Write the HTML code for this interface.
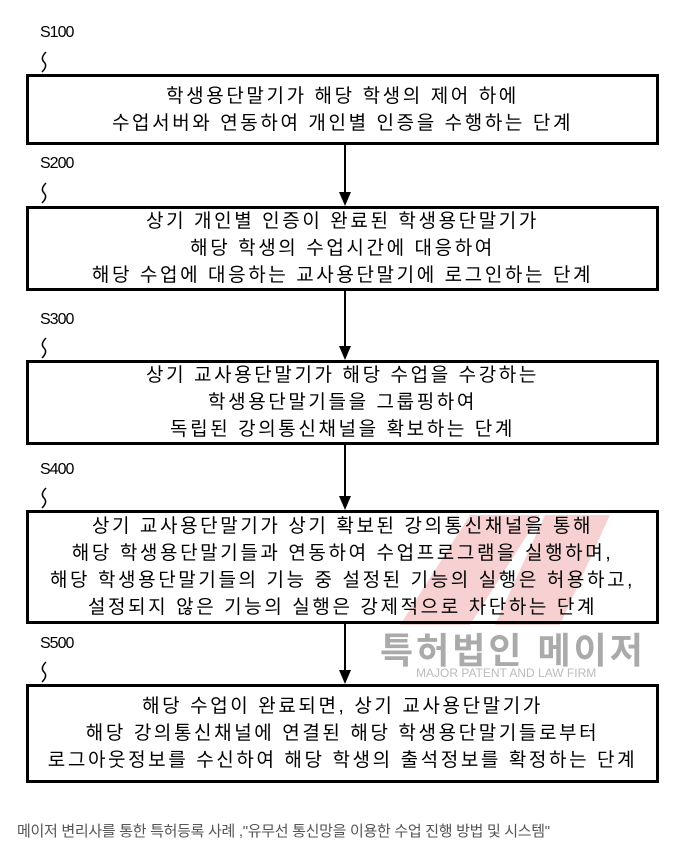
<!DOCTYPE html>
<html><head><meta charset="utf-8"><style>
body{margin:0;background:#fff;width:681px;height:857px;position:relative;overflow:hidden;font-family:"Liberation Sans","Noto Sans CJK KR","NanumGothic",sans-serif}
.b{position:absolute;left:26px;width:633px;border:3px solid #000;box-sizing:border-box;text-align:center;font-size:19px;line-height:27px;color:#000;display:flex;flex-direction:column;justify-content:center;letter-spacing:2.6px;background:transparent;z-index:2;white-space:nowrap}
.l{position:absolute;left:40px;font-size:16px;letter-spacing:-1px}
.ln{position:absolute;left:344px;width:2px;background:#000}
.ah{position:absolute;left:339px;width:0;height:0;border-left:6px solid transparent;border-right:6px solid transparent;border-top:14px solid #000}
</style></head><body>
<svg style="position:absolute;left:0;top:0" width="681" height="857">
<polygon points="470,515 540,515 470,625 400,625" fill="#f5c6c6" opacity="0.8"/>
<polygon points="545,515 610,515 560,625 495,625" fill="#f5c6c6" opacity="0.8"/>
<g fill="none" stroke="#000" stroke-width="1.5">
<path d="M46,52 q-6,6 -2,10 q4,4 -2,10"/>
<path d="M46,183 q-6,6 -2,10 q4,4 -2,10"/>
<path d="M46,338 q-6,6 -2,10 q4,4 -2,10"/>
<path d="M46,488 q-6,6 -2,10 q4,4 -2,10"/>
<path d="M46,662 q-6,6 -2,10 q4,4 -2,10"/>
</g>
</svg>
<div style="position:absolute;left:380px;top:622px;font-size:36px;font-weight:bold;color:#aaa;letter-spacing:3px;z-index:1">특허법인 메이저</div>
<div style="position:absolute;left:416px;top:666px;font-size:12px;color:#bbb;z-index:1">MAJOR PATENT AND LAW FIRM</div>
<div class="l" style="top:24px">S100</div>
<div class="l" style="top:155px">S200</div>
<div class="l" style="top:311px">S300</div>
<div class="l" style="top:461px">S400</div>
<div class="l" style="top:635px">S500</div>
<div class="b" style="top:74px;height:71px">학생용단말기가 해당 학생의 제어 하에<br>수업서버와 연동하여 개인별 인증을 수행하는 단계</div>
<div class="ln" style="top:145px;height:48px"></div><div class="ah" style="top:192px"></div>
<div class="b" style="top:206px;height:85px">상기 개인별 인증이 완료된 학생용단말기가<br>해당 학생의 수업시간에 대응하여<br>해당 수업에 대응하는 교사용단말기에 로그인하는 단계</div>
<div class="ln" style="top:291px;height:56px"></div><div class="ah" style="top:346px"></div>
<div class="b" style="top:360px;height:85px">상기 교사용단말기가 해당 수업을 수강하는<br>학생용단말기들을 그룹핑하여<br>독립된 강의통신채널을 확보하는 단계</div>
<div class="ln" style="top:445px;height:52px"></div><div class="ah" style="top:496px"></div>
<div class="b" style="top:510px;height:114px">상기 교사용단말기가 상기 확보된 강의통신채널을 통해<br>해당 학생용단말기들과 연동하여 수업프로그램을 실행하며,<br>해당 학생용단말기들의 기능 중 설정된 기능의 실행은 허용하고,<br>설정되지 않은 기능의 실행은 강제적으로 차단하는 단계</div>
<div class="ln" style="top:624px;height:47px"></div><div class="ah" style="top:670px"></div>
<div class="b" style="top:684px;height:99px">해당 수업이 완료되면, 상기 교사용단말기가<br>해당 강의통신채널에 연결된 해당 학생용단말기들로부터<br>로그아웃정보를 수신하여 해당 학생의 출석정보를 확정하는 단계</div>
<div style="position:absolute;left:17px;top:820px;font-size:15px;color:#555;letter-spacing:-0.3px">메이저 변리사를 통한 특허등록 사례 ,"유무선 통신망을 이용한 수업 진행 방법 및 시스템"</div>
</body></html>
